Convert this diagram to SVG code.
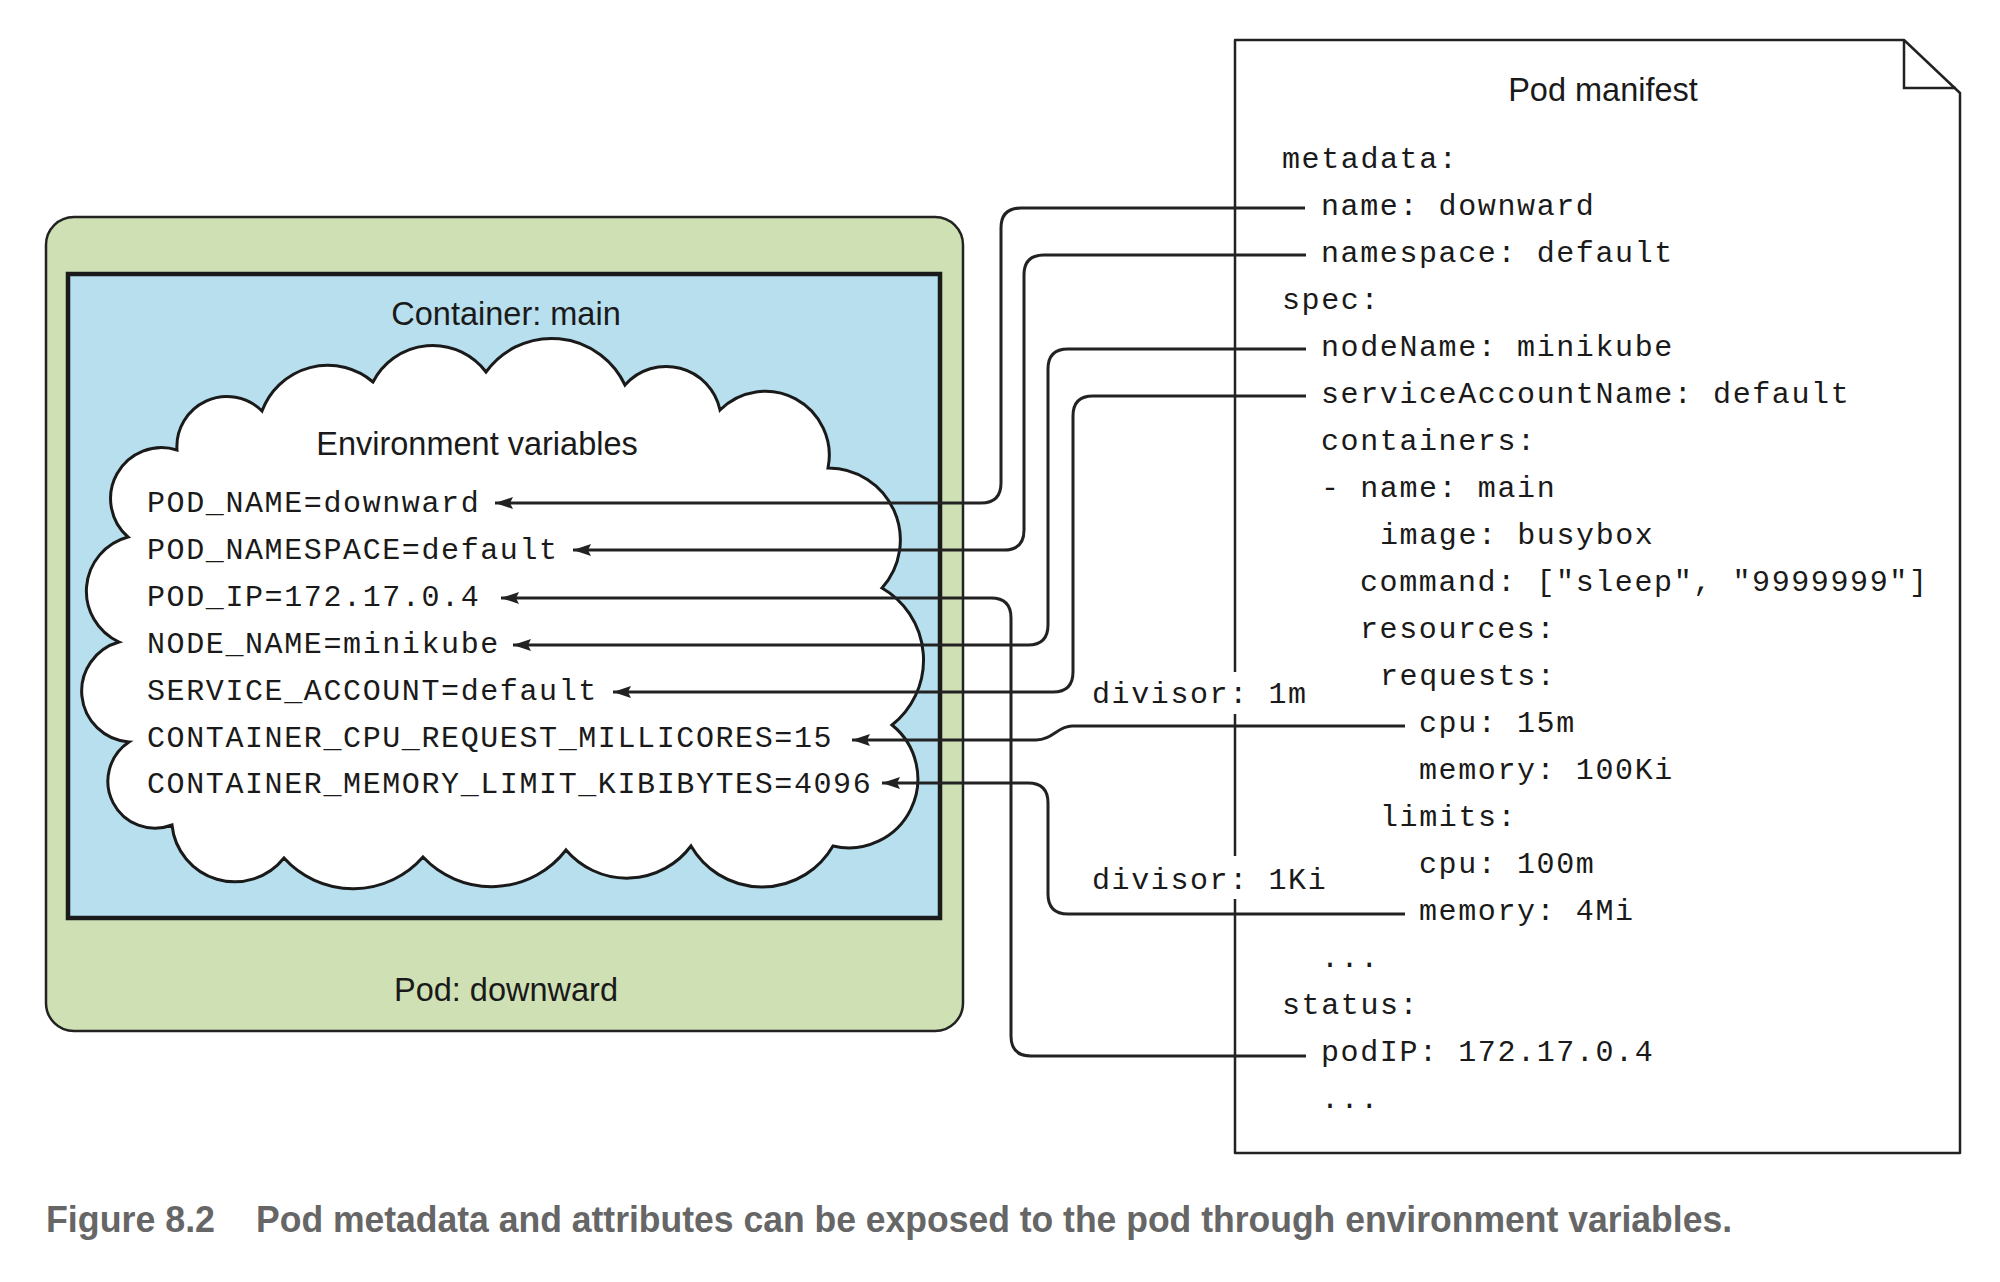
<svg xmlns="http://www.w3.org/2000/svg" width="2000" height="1282" viewBox="0 0 2000 1282">
<style>
.sans{font-family:"Liberation Sans",Arial,sans-serif;font-size:32.5px;fill:#1a1a1a}
.mono{font-family:"Liberation Mono","Courier New",monospace;font-size:30px;letter-spacing:1.6px;fill:#1a1a1a}
.conn{fill:none;stroke:#222;stroke-width:3;marker-end:url(#ah)}
.cap{font-family:"Liberation Sans",Arial,sans-serif;font-size:37px;font-weight:bold;fill:#666}
</style>
<defs>
<marker id="ah" viewBox="0 0 18 12" refX="18" refY="6" markerWidth="18" markerHeight="12" markerUnits="userSpaceOnUse" orient="auto">
<path d="M0,0 L18,6 L0,12 L3,6 Z" fill="#222"/>
</marker>
</defs>
<rect width="2000" height="1282" fill="#fff"/>

<g id="pod">
<rect x="46" y="217" width="917" height="814" rx="28" fill="#cfe0b4" stroke="#222" stroke-width="2.5"/>
<text class="sans" x="506" y="1001" text-anchor="middle">Pod: downward</text>
</g>

<g id="container">
<rect x="68" y="274" width="872" height="644" fill="#b7dfee" stroke="#1a1a1a" stroke-width="4.5"/>
<text class="sans" x="506" y="325" text-anchor="middle">Container: main</text>
</g>

<g id="envvars">
<path d="M177,450 A50,50 0 0 1 262,411 A70,70 0 0 1 373,382 A67,67 0 0 1 486,372 A81,81 0 0 1 625,385 A55,55 0 0 1 720,410 A64,64 0 0 1 828,468 A72,72 0 0 1 882,588 A83,83 0 0 1 892,725 A69,69 0 0 1 833,846 A82,82 0 0 1 691,846 A80,80 0 0 1 566,850 A94,94 0 0 1 423,857 A93,93 0 0 1 284,858 A63,63 0 0 1 172,825 A47,47 0 0 1 129,742 A51,51 0 0 1 119,642 A56,56 0 0 1 128,537 A51,51 0 0 1 177,450 Z" fill="#fff" stroke="#1a1a1a" stroke-width="3"/>
<text class="sans" x="477" y="455" text-anchor="middle">Environment variables</text>
<text class="mono" x="147" y="512">POD_NAME=downward</text>
<text class="mono" x="147" y="559">POD_NAMESPACE=default</text>
<text class="mono" x="147" y="606">POD_IP=172.17.0.4</text>
<text class="mono" x="147" y="653">NODE_NAME=minikube</text>
<text class="mono" x="147" y="700">SERVICE_ACCOUNT=default</text>
<text class="mono" x="147" y="747">CONTAINER_CPU_REQUEST_MILLICORES=15</text>
<text class="mono" x="147" y="793">CONTAINER_MEMORY_LIMIT_KIBIBYTES=4096</text>
</g>

<g id="manifest">
<path d="M1235,40 H1904 L1960,93 V1153 H1235 Z" fill="#fff" stroke="#222" stroke-width="2.5" stroke-linejoin="round"/>
<path d="M1904,40 V88 H1956" fill="none" stroke="#222" stroke-width="2.5"/>
<text class="sans" x="1603" y="101" text-anchor="middle">Pod manifest</text>
<text class="mono" x="1282" y="168">metadata:</text>
<text class="mono" x="1321" y="215">name: downward</text>
<text class="mono" x="1321" y="262">namespace: default</text>
<text class="mono" x="1282" y="309">spec:</text>
<text class="mono" x="1321" y="356">nodeName: minikube</text>
<text class="mono" x="1321" y="403">serviceAccountName: default</text>
<text class="mono" x="1321" y="450">containers:</text>
<text class="mono" x="1321" y="497">- name: main</text>
<text class="mono" x="1380" y="544">image: busybox</text>
<text class="mono" x="1360" y="591">command: ["sleep", "9999999"]</text>
<text class="mono" x="1360" y="638">resources:</text>
<text class="mono" x="1380" y="685">requests:</text>
<text class="mono" x="1419" y="732">cpu: 15m</text>
<text class="mono" x="1419" y="779">memory: 100Ki</text>
<text class="mono" x="1380" y="826">limits:</text>
<text class="mono" x="1419" y="873">cpu: 100m</text>
<text class="mono" x="1419" y="920">memory: 4Mi</text>
<text class="mono" x="1321" y="967">...</text>
<text class="mono" x="1282" y="1014">status:</text>
<text class="mono" x="1321" y="1061">podIP: 172.17.0.4</text>
<text class="mono" x="1321" y="1108">...</text>
</g>

<g id="divisors">
<rect x="1088" y="672" width="224" height="42" fill="#fff"/>
<text class="mono" x="1092" y="703">divisor: 1m</text>
<rect x="1088" y="856" width="244" height="43" fill="#fff"/>
<text class="mono" x="1092" y="889">divisor: 1Ki</text>
</g>

<g id="connectors">
<path class="conn" d="M1305,208 H1021 Q1001,208 1001,228 V483 Q1001,503 981,503 H495"/>
<path class="conn" d="M1306,255 H1044 Q1024,255 1024,275 V530 Q1024,550 1004,550 H573"/>
<path class="conn" d="M1306,1056 H1031 Q1011,1056 1011,1036 V618 Q1011,598 991,598 H501"/>
<path class="conn" d="M1306,349 H1068 Q1048,349 1048,369 V625 Q1048,645 1028,645 H513"/>
<path class="conn" d="M1306,396 H1093 Q1073,396 1073,416 V672 Q1073,692 1053,692 H613"/>
<path class="conn" d="M1405,726 H1072 C1058,726 1052,740 1036,740 H852"/>
<path class="conn" d="M1405,914 H1068 Q1048,914 1048,894 V803 Q1048,783 1028,783 H882"/>
</g>

<g id="caption">
<text class="cap" x="46" y="1232" textLength="169" lengthAdjust="spacingAndGlyphs">Figure 8.2</text>
<text class="cap" x="256" y="1232" textLength="1476" lengthAdjust="spacingAndGlyphs">Pod metadata and attributes can be exposed to the pod through environment variables.</text>
</g>
</svg>
